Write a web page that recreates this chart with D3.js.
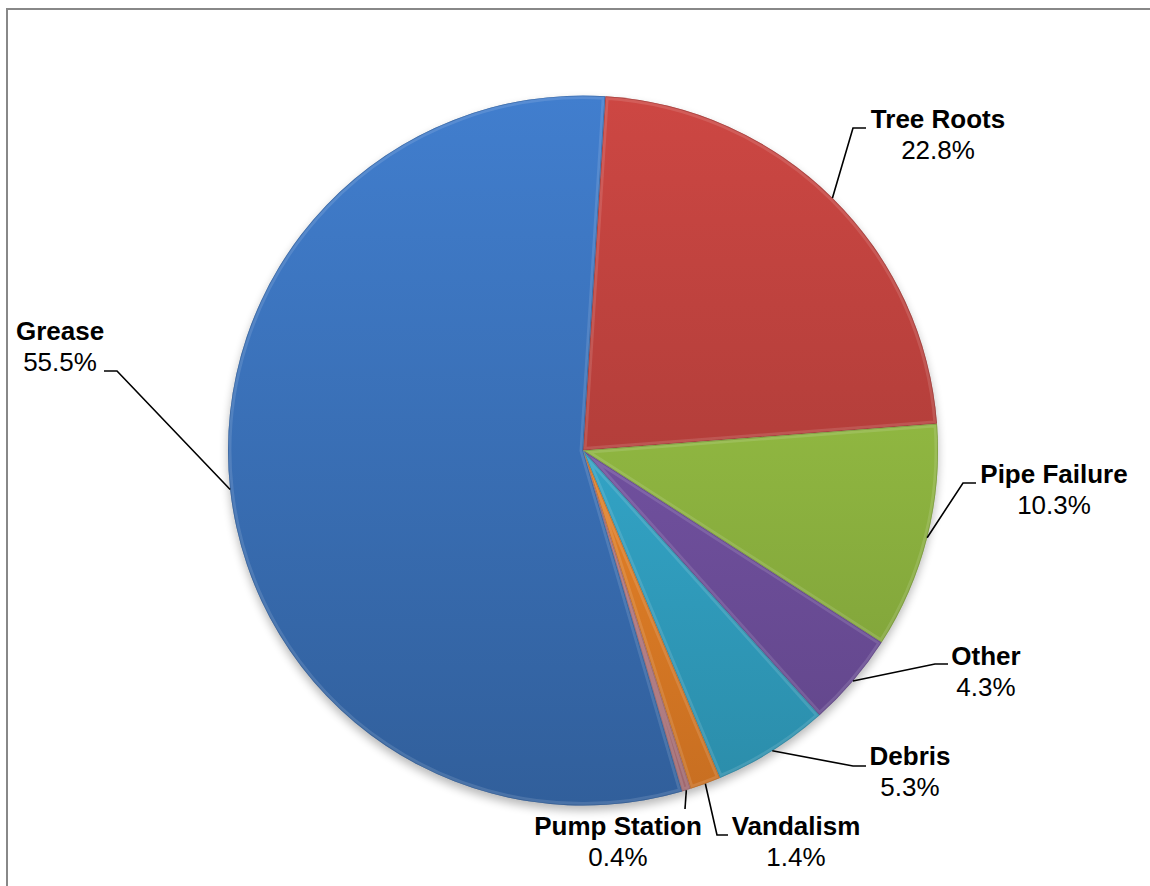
<!DOCTYPE html>
<html>
<head>
<meta charset="utf-8">
<script src="https://cdn.jsdelivr.net/npm/d3@7/dist/d3.min.js"></script>
<style>
  html, body { margin: 0; padding: 0; background: #fff; }
  svg { display: block; }
</style>
</head>
<body>
<svg id="chart" width="1150" height="886"></svg>
<script>
// ---- data ----
const categories = ["Tree Roots", "Pipe Failure", "Other", "Debris", "Vandalism", "Pump Station", "Grease"];
const values = [22.8, 10.3, 4.3, 5.3, 1.4, 0.4, 55.5];
const colors = ["#B8403C", "#92B942", "#7352A2", "#33A7CA", "#EE8428", "#BC7A82", "#3A71B9"];

// ---- layout (label placement, not data) ----
const W = 1150, H = 886;
const cx = 583, cy = 450.5, R = 355;
const startAngle = 3.6 * Math.PI / 180;
const labelLayout = {
  "Tree Roots":   { tx: 938,  ty: 128, elbow: [853, 128], end: [866, 128] },
  "Pipe Failure": { tx: 1054, ty: 483, elbow: [963, 483], end: [976, 483] },
  "Other":        { tx: 986,  ty: 665, elbow: [935, 664], end: [948, 664] },
  "Debris":       { tx: 910,  ty: 765, elbow: [853, 766], end: [866, 766] },
  "Vandalism":    { tx: 796,  ty: 835, elbow: [717, 835], end: [728, 835] },
  "Pump Station": { tx: 618,  ty: 835, elbow: [685, 809], end: [685, 809] },
  "Grease":       { tx: 60,   ty: 340, elbow: [117, 371], end: [104, 371] }
};

const svg = d3.select("#chart");
const defs = svg.append("defs");

// border (left and top lines)
svg.append("line").attr("x1", 7).attr("y1", 9).attr("x2", 7).attr("y2", H)
  .attr("stroke", "#888").attr("stroke-width", 2);
svg.append("line").attr("x1", 6).attr("y1", 9).attr("x2", W).attr("y2", 9)
  .attr("stroke", "#888").attr("stroke-width", 2);

// shadow filter
const shadow = defs.append("filter").attr("id", "shadow")
  .attr("x", "-20%").attr("y", "-20%").attr("width", "140%").attr("height", "140%");
shadow.append("feGaussianBlur").attr("stdDeviation", 5);

const pie = d3.pie().sort(null).value(d => d)
  .startAngle(startAngle).endAngle(startAngle + 2 * Math.PI);
const arcs = pie(values);
const arc = d3.arc().innerRadius(0).outerRadius(R);

const g = svg.append("g").attr("transform", `translate(${cx},${cy})`);

// drop shadow
g.append("circle").attr("cx", 0).attr("cy", 5).attr("r", R)
  .attr("fill", "#000").attr("opacity", 0.28).attr("filter", "url(#shadow)");

// gradients per slice
arcs.forEach((a, i) => {
  const base = d3.color(colors[i]);
  const grad = defs.append("linearGradient").attr("id", "grad" + i)
    .attr("gradientUnits", "userSpaceOnUse")
    .attr("x1", 0).attr("y1", -R).attr("x2", 0).attr("y2", R);
  grad.append("stop").attr("offset", "0%").attr("stop-color", base.brighter(0.3));
  grad.append("stop").attr("offset", "100%").attr("stop-color", base.darker(0.5));
  defs.append("clipPath").attr("id", "clip" + i)
    .append("path").attr("d", arc(a));
});

const slices = g.selectAll("g.slice").data(arcs).enter().append("g").attr("class", "slice");
slices.append("path")
  .attr("d", arc)
  .attr("fill", (d, i) => `url(#grad${i})`);
// bevel highlight (inner edge)
slices.append("path")
  .attr("d", arc)
  .attr("fill", "none")
  .attr("stroke", "#fff")
  .attr("stroke-opacity", 0.12)
  .attr("stroke-width", 7)
  .attr("clip-path", (d, i) => `url(#clip${i})`);
slices.append("path")
  .attr("d", arc)
  .attr("fill", "none")
  .attr("stroke", (d, i) => d3.color(colors[i]).darker(0.9))
  .attr("stroke-opacity", 0.55)
  .attr("stroke-width", 1.6)
  .attr("clip-path", (d, i) => `url(#clip${i})`);

// labels + leader lines
const labels = svg.append("g");
arcs.forEach((a, i) => {
  const name = categories[i];
  const L = labelLayout[name];
  const mid = (a.startAngle + a.endAngle) / 2;
  const px = cx + R * Math.sin(mid);
  const py = cy - R * Math.cos(mid);
  const pts = [[px, py], L.elbow, L.end];
  labels.append("path")
    .attr("d", d3.line()(pts))
    .attr("fill", "none").attr("stroke", "#000").attr("stroke-width", 1.6);
  labels.append("text")
    .attr("x", L.tx).attr("y", L.ty)
    .attr("text-anchor", "middle")
    .attr("font-family", "Liberation Sans, Arial, sans-serif")
    .attr("font-size", 26).attr("font-weight", "bold").attr("fill", "#000")
    .text(name);
  labels.append("text")
    .attr("x", L.tx).attr("y", L.ty + 31)
    .attr("text-anchor", "middle")
    .attr("font-family", "Liberation Sans, Arial, sans-serif")
    .attr("font-size", 26).attr("fill", "#000")
    .text(values[i].toFixed(1) + "%");
});
</script>
</body>
</html>
